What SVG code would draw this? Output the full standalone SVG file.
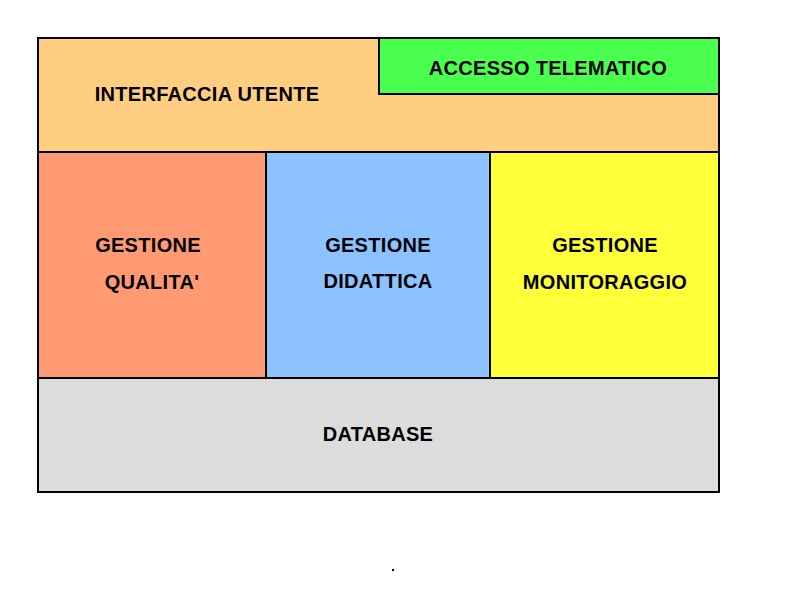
<svg xmlns="http://www.w3.org/2000/svg" width="800" height="600" viewBox="0 0 800 600">
<style>
.b{stroke:#000;stroke-width:2}
.t{font-family:"Liberation Sans",Arial,sans-serif;font-weight:bold;font-size:20px;letter-spacing:0.3px;fill:#000;text-anchor:middle}
</style>
<rect width="800" height="600" fill="#fff"/>
<g id="interfaccia"><rect class="b" x="38" y="38" width="681" height="114" fill="#FFCE80"/><text class="t" x="207" y="101">INTERFACCIA UTENTE</text></g>
<g id="accesso"><rect class="b" x="379" y="38" width="340" height="56" fill="#4AFF4E"/><text class="t" x="548" y="75">ACCESSO TELEMATICO</text></g>
<g id="qualita"><rect class="b" x="38" y="152" width="228" height="226" fill="#FF9A73"/><text class="t" x="148" y="252">GESTIONE</text><text class="t" x="152" y="289">QUALITA'</text></g>
<g id="didattica"><rect class="b" x="266" y="152" width="224" height="226" fill="#8CC2FF"/><text class="t" x="378" y="252">GESTIONE</text><text class="t" x="378" y="288">DIDATTICA</text></g>
<g id="monitoraggio"><rect class="b" x="490" y="152" width="229" height="226" fill="#FFFF3A"/><text class="t" x="605" y="252">GESTIONE</text><text class="t" x="605" y="289">MONITORAGGIO</text></g>
<g id="database"><rect class="b" x="38" y="378" width="681" height="114" fill="#DCDCDC"/><text class="t" x="378" y="441">DATABASE</text></g>
<g id="connectors"></g>
<rect x="392" y="569" width="2" height="2" fill="#000"/>
</svg>
